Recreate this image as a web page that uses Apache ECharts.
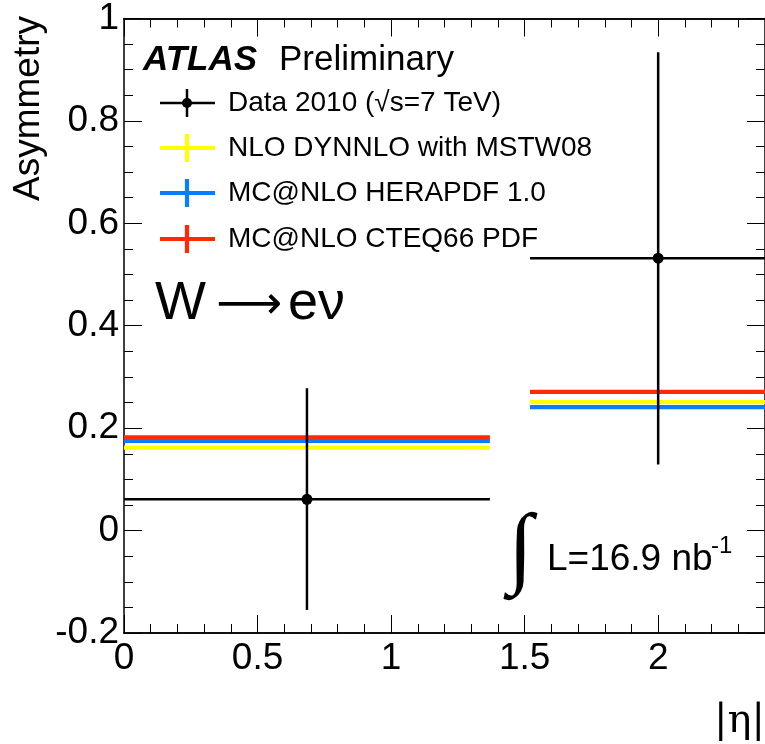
<!DOCTYPE html>
<html>
<head>
<meta charset="utf-8">
<script src="https://cdn.jsdelivr.net/npm/echarts@6/dist/echarts.min.js"></script>
<style>
  html, body { margin: 0; padding: 0; background: #fff; }
  #chart { width: 765px; height: 744px; }
</style>
</head>
<body>
<div id="chart"></div>
<script>
// |eta| bins
const binLo = [0, 1.52]
const binHi = [1.37, 2.4]
// measured asymmetry (Data 2010)
const dataX = [0.685, 2.0]
const dataY = [0.061, 0.532]
const errLo = [-0.155, 0.129]
const errHi = [0.278, 0.934]
// predictions per bin
const nloMstw = [0.162, 0.251]
const mcHera = [0.175, 0.241]
const mcCteq = [0.182, 0.271]
// tick labels
const xTicks = [0, 0.5, 1, 1.5, 2]
const yTicks = [-0.2, 0, 0.2, 0.4, 0.6, 0.8, 1]

const FONT = 'Liberation Sans'
const RED = '#ff2a00'
const BLUE = '#0a7cff'
const YELLOW = '#ffff00'

const chart = echarts.init(document.getElementById('chart'))

// horizontal band line for a prediction
function predSeries(name, vals, color) {
  return {
    name: name,
    type: 'custom',
    xAxisIndex: 0,
    yAxisIndex: 0,
    data: vals.map((v, i) => [binLo[i], binHi[i], v]),
    renderItem: (params, api) => {
      const a = api.coord([api.value(0), api.value(2)])
      const b = api.coord([api.value(1), api.value(2)])
      return {
        type: 'line',
        shape: { x1: a[0], y1: a[1], x2: b[0], y2: b[1] },
        style: { stroke: color, lineWidth: 4.2 }
      }
    }
  }
}

const dataSeries = {
  name: 'Data 2010',
  type: 'custom',
  xAxisIndex: 0,
  yAxisIndex: 0,
  z: 5,
  data: dataX.map((x, i) => [x, dataY[i], errLo[i], errHi[i], binLo[i], binHi[i]]),
  renderItem: (params, api) => {
    const c = api.coord([api.value(0), api.value(1)])
    const l = api.coord([api.value(4), api.value(1)])
    const r = api.coord([api.value(5), api.value(1)])
    const lo = api.coord([api.value(0), api.value(2)])
    const hi = api.coord([api.value(0), api.value(3)])
    const st = { stroke: '#000', lineWidth: 2.5 }
    return {
      type: 'group',
      children: [
        { type: 'line', shape: { x1: l[0], y1: l[1], x2: r[0], y2: r[1] }, style: st },
        { type: 'line', shape: { x1: lo[0], y1: lo[1], x2: hi[0], y2: hi[1] }, style: st },
        { type: 'circle', shape: { cx: c[0], cy: c[1], r: 5.5 }, style: { fill: '#000' } }
      ]
    }
  }
}

const labelStyle = { color: '#000', fontSize: 37, fontFamily: FONT }
const lineSt = { show: true, onZero: false, lineStyle: { color: '#000', width: 1.5 } }

function xAx(pos, major, showLabel) {
  return {
    type: 'value', position: pos, min: 0, max: 2.4,
    interval: major ? 0.5 : 0.1,
    axisLine: lineSt,
    axisTick: { show: true, inside: true, length: major ? 18 : 9, lineStyle: { color: '#000', width: 1 } },
    axisLabel: showLabel ? Object.assign({
      margin: 7, showMaxLabel: false,
      formatter: v => xTicks.indexOf(v) >= 0 ? String(v) : ''
    }, labelStyle) : { show: false },
    splitLine: { show: false }
  }
}

function yAx(pos, showLabel) {
  return {
    type: 'value', position: pos, min: -0.2, max: 1, interval: 0.2,
    axisLine: lineSt,
    axisTick: { show: true, inside: true, length: 18, lineStyle: { color: '#000', width: 1 } },
    minorTick: { show: true, splitNumber: 4, length: 9, lineStyle: { color: '#000', width: 1 } },
    axisLabel: showLabel ? Object.assign({
      margin: 5,
      formatter: v => {
        const t = yTicks.find(k => Math.abs(k - v) < 1e-9)
        return t === undefined ? '' : String(t)
      }
    }, labelStyle) : { show: false },
    splitLine: { show: false }
  }
}

function legendEntry(y, color, label, isData) {
  const w = isData ? 2.5 : 4.2
  const items = [
    { type: 'line', shape: { x1: 160, y1: y, x2: 215, y2: y }, style: { stroke: color, lineWidth: w } },
    { type: 'line', shape: { x1: 187, y1: y - 14, x2: 187, y2: y + 14 }, style: { stroke: color, lineWidth: w } },
    { type: 'text', x: 228, y: y, style: { text: label, fontSize: 28, fontFamily: FONT, fill: '#000', verticalAlign: 'middle' } }
  ]
  if (isData) items.push({ type: 'circle', shape: { cx: 187, cy: y, r: 5 }, style: { fill: '#000' } })
  return items
}

const option = {
  backgroundColor: '#fff',
  animation: false,
  grid: { left: 124, top: 17, width: 643, height: 616, containLabel: false },
  xAxis: [xAx('bottom', true, true), xAx('bottom', false, false), xAx('top', true, false), xAx('top', false, false)],
  yAxis: [yAx('left', true), yAx('right', false)],
  series: [
    predSeries('NLO DYNNLO with MSTW08', nloMstw, YELLOW),
    predSeries('MC@NLO HERAPDF 1.0', mcHera, BLUE),
    predSeries('MC@NLO CTEQ66 PDF', mcCteq, RED),
    dataSeries
  ],
  graphic: [
    // axis titles
    { type: 'text', x: 29, y: 16, rotation: Math.PI / 2,
      style: { text: 'Asymmetry', fontSize: 37, fontFamily: FONT, fill: '#000', align: 'right', verticalAlign: 'middle' } },
    { type: 'text', x: 765, y: 722,
      style: { text: '|η|', fontSize: 40, fontFamily: 'DejaVu Serif', fill: '#000', align: 'right', verticalAlign: 'middle' } },
    // ATLAS label
    { type: 'text', x: 143, y: 60,
      style: { text: 'ATLAS', fontSize: 35, fontFamily: FONT, fontStyle: 'italic', fontWeight: 'bold', fill: '#000', verticalAlign: 'middle' } },
    { type: 'text', x: 279, y: 60,
      style: { text: 'Preliminary', fontSize: 35, fontFamily: FONT, fill: '#000', verticalAlign: 'middle' } },
    ...legendEntry(103, '#000', 'Data 2010 (√s=7 TeV)', true),
    ...legendEntry(148, YELLOW, 'NLO DYNNLO with MSTW08', false),
    ...legendEntry(193, BLUE, 'MC@NLO HERAPDF 1.0', false),
    ...legendEntry(239, RED, 'MC@NLO CTEQ66 PDF', false),
    // process
    { type: 'text', x: 155, y: 304,
      style: { text: 'W', fontSize: 54, fontFamily: FONT, fill: '#000', verticalAlign: 'middle' } },
    { type: 'text', x: 216, y: 306,
      style: { text: '⟶', fontSize: 46, fontFamily: 'DejaVu Sans', fill: '#000', verticalAlign: 'middle' } },
    { type: 'text', x: 288, y: 304,
      style: { text: 'eν', fontSize: 54, fontFamily: FONT, fill: '#000', verticalAlign: 'middle' } },
    // luminosity
    { type: 'text', x: 508, y: 552,
      style: { text: '∫', fontSize: 90, fontFamily: 'Liberation Serif', fill: '#000', verticalAlign: 'middle' } },
    { type: 'text', x: 547, y: 560,
      style: { text: 'L=16.9 nb', fontSize: 37, fontFamily: FONT, fill: '#000', verticalAlign: 'middle' } },
    { type: 'text', x: 711, y: 546,
      style: { text: '-1', fontSize: 24, fontFamily: FONT, fill: '#000', verticalAlign: 'middle' } }
  ]
}

chart.setOption(option)
</script>
</body>
</html>
